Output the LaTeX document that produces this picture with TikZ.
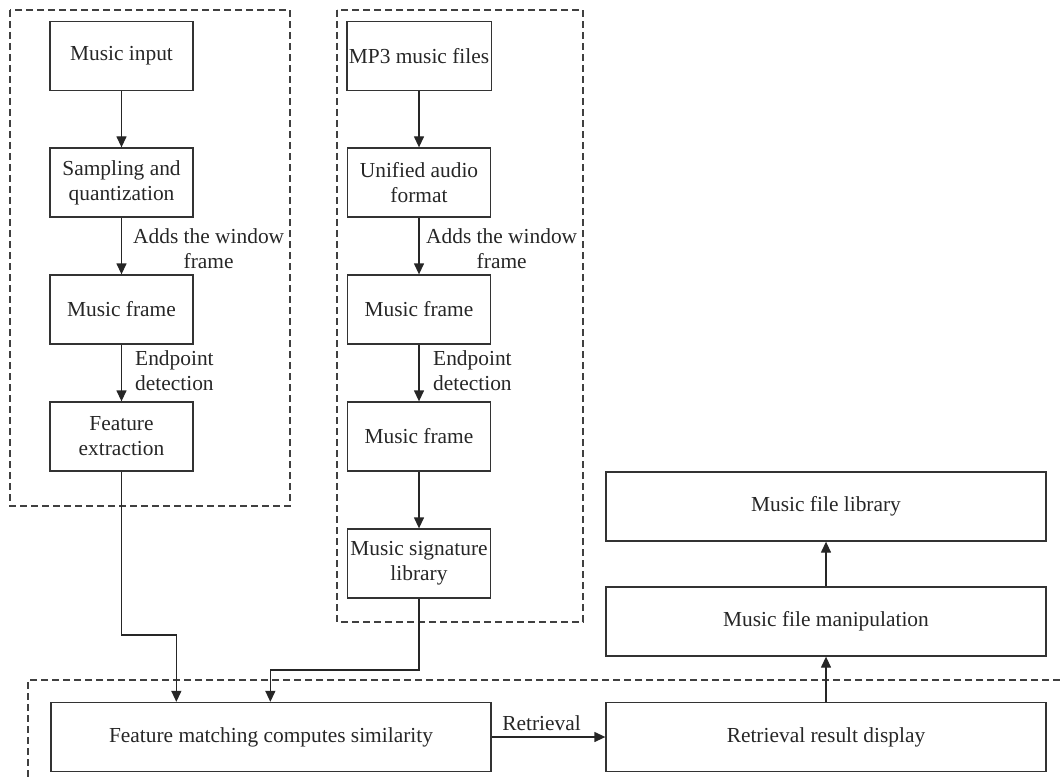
\documentclass[tikz,border=0pt]{standalone}
\usepackage{fontspec}
\setmainfont{Liberation Serif}
\usetikzlibrary{arrows.meta}

\begin{document}
\begin{tikzpicture}[x=1pt,y=-1pt,font=\fontsize{21.4}{25}\selectfont,text=black!85,block/.style={draw=black!80,line width=1.3pt,align=center,minimum height=69pt,inner sep=2pt},narrow/.style={block,minimum width=143pt},wide/.style={block,minimum width=440pt},arrow/.style={-{Triangle[length=11pt,width=10pt]},line width=1.3pt,draw=black!85},group/.style={draw=black!75,line width=1.2pt,dash pattern=on 7pt off 4pt},note/.style={anchor=west,align=center,inner sep=0pt}]
\useasboundingbox (0,0) rectangle (1060,778);
% dashed groups
\draw[group] (10,10) rectangle (290,506);
\draw[group] (337,10) rectangle (583,622);
\draw[group] (1060,680) -- (28,680) -- (28,778);
% query side
\node[narrow] (mi) at (121.5,56) {Music input};
\node[narrow] (sq) at (121.5,182.5) {Sampling and\\quantization};
\node[narrow] (mf1) at (121.5,309.5) {Music frame};
\node[narrow] (fe) at (121.5,436.5) {Feature\\extraction};
% library side
\node[narrow] (mp) at (419,56) {MP3 music files};
\node[narrow] (ua) at (419,182.5) {Unified audio\\format};
\node[narrow] (mf2) at (419,309.5) {Music frame};
\node[narrow] (mf3) at (419,436.5) {Music frame};
\node[narrow] (sl) at (419,563.5) {Music signature\\library};
% matching and output
\node[wide] (fm) at (271,737) {Feature matching computes similarity};
\node[wide] (rd) at (826,737) {Retrieval result display};
\node[wide] (fp) at (826,621.5) {Music file manipulation};
\node[wide] (fl) at (826,506.5) {Music file library};
\draw[arrow] (mi) -- (sq);
\draw[arrow] (sq) -- (mf1);
\draw[arrow] (mf1) -- (fe);
\draw[arrow] (mp) -- (ua);
\draw[arrow] (ua) -- (mf2);
\draw[arrow] (mf2) -- (mf3);
\draw[arrow] (mf3) -- (sl);
\node[note] (w1) at (133,249) {Adds the window\\frame};
\node[note] (e1) at (135,371) {Endpoint\\detection};
\node[note] (w2) at (426,249) {Adds the window\\frame};
\node[note] (e2) at (433,371) {Endpoint\\detection};
\draw[arrow] (fe.south) -- (fe.south |- 0,635) -| ([xshift=126pt]fm.north west);
\draw[arrow] (sl.south) -- (sl.south |- 0,670) -| ([xshift=220pt]fm.north west);
\draw[arrow] (fm) -- node[above=2pt,xshift=-7pt] (rt) {Retrieval} (rd);
\draw[arrow] (rd) -- (fp);
\draw[arrow] (fp) -- (fl);
\end{tikzpicture}
\end{document}
